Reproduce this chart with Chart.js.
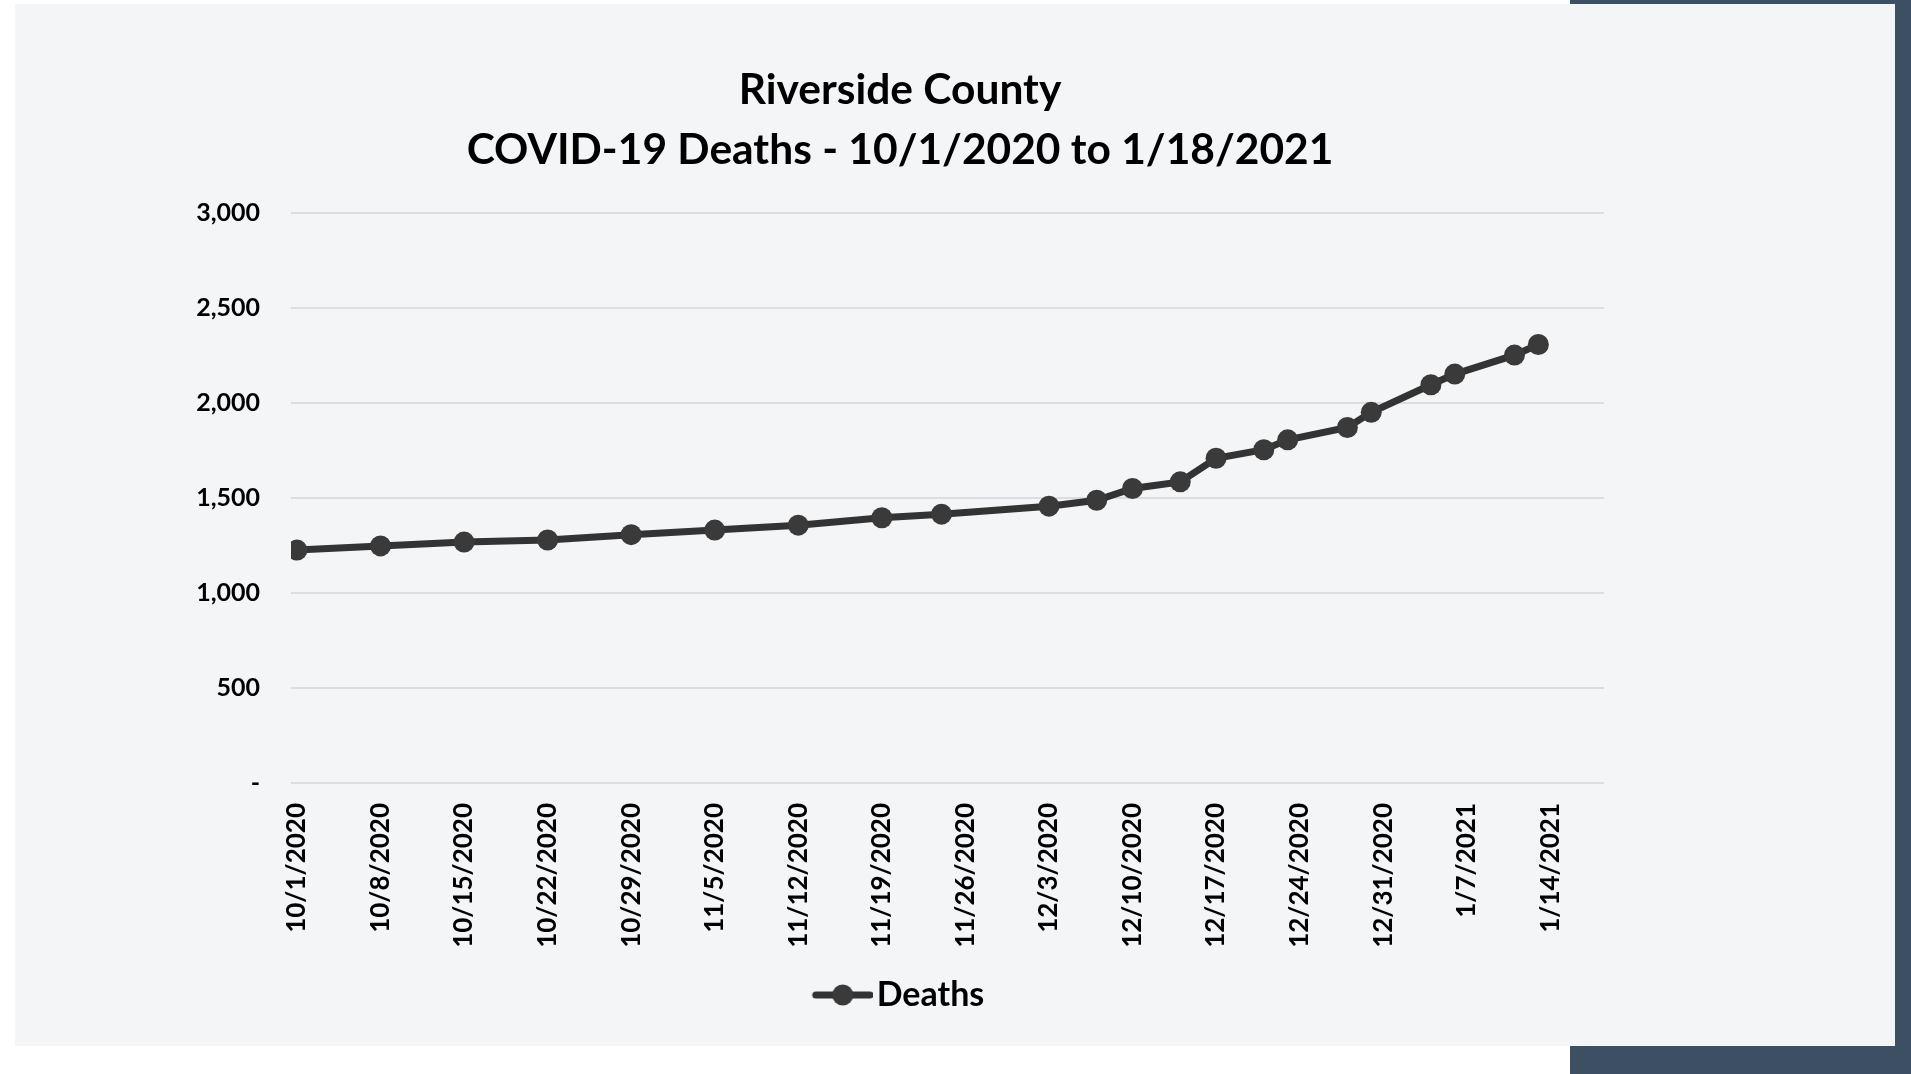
<!DOCTYPE html>
<html>
<head>
<meta charset="utf-8">
<script src="https://cdn.jsdelivr.net/npm/chart.js@4.4.1/dist/chart.umd.min.js"></script>
<style>
  body { margin: 0; background: #ffffff; width: 1911px; height: 1074px; overflow: hidden; position: relative; }
  #slate { position: absolute; left: 1570px; top: 0; width: 341px; height: 1074px; background: #3c4f63; }
  #panel { position: absolute; left: 15px; top: 4px; width: 1880px; height: 1042px; background: #f4f5f7; }
</style>
</head>
<body>
<div id="slate"></div>
<div id="panel"><canvas id="myChart" width="1880" height="1042"></canvas></div>
<script>
// report dates and cumulative deaths
var dates = ['10/1/2020', '10/8/2020', '10/15/2020', '10/22/2020', '10/29/2020', '11/5/2020',
             '11/12/2020', '11/19/2020', '11/24/2020', '12/3/2020', '12/7/2020', '12/10/2020',
             '12/14/2020', '12/17/2020', '12/21/2020', '12/23/2020', '12/28/2020', '12/30/2020',
             '1/4/2021', '1/6/2021', '1/11/2021', '1/13/2021'];
var deaths = [1226, 1248, 1268, 1279, 1307, 1331, 1357, 1396, 1415, 1457, 1488, 1550,
              1585, 1709, 1754, 1806, 1871, 1951, 2096, 2152, 2252, 2308];

var xTickLabels = ['10/1/2020', '10/8/2020', '10/15/2020', '10/22/2020', '10/29/2020', '11/5/2020',
                   '11/12/2020', '11/19/2020', '11/26/2020', '12/3/2020', '12/10/2020', '12/17/2020',
                   '12/24/2020', '12/31/2020', '1/7/2021', '1/14/2021'];
var yTickLabels = ['-', '500', '1,000', '1,500', '2,000', '2,500', '3,000'];

var firstDay = '10/1/2020';
var lastDay = '1/18/2021';

function dayNum(s) {
    var p = s.split('/');
    var d = Date.UTC(+p[2], +p[0] - 1, +p[1]);
    var p0 = firstDay.split('/');
    return Math.round((d - Date.UTC(+p0[2], +p0[0] - 1, +p0[1])) / 86400000);
}

var points = dates.map(function (d, i) { return { x: dayNum(d), y: deaths[i] }; });
var xTickDays = xTickLabels.map(dayNum);

// legend icon: line with a marker in the middle
var legendIcon = document.createElement('canvas');
legendIcon.width = 70;
legendIcon.height = 24;
var ic = legendIcon.getContext('2d');
ic.strokeStyle = '#333333';
ic.lineWidth = 7;
ic.lineCap = 'round';
ic.beginPath();
ic.moveTo(13, 12);
ic.lineTo(67, 12);
ic.stroke();
ic.fillStyle = '#3a3a3a';
ic.beginPath();
ic.arc(40, 12, 10.5, 0, Math.PI * 2);
ic.fill();

Chart.defaults.font.family = 'Lato';
Chart.defaults.color = '#000000';

var ctx = document.getElementById('myChart').getContext('2d');
var myChart = new Chart(ctx, {
    type: 'line',
    data: {
        datasets: [{
            label: 'Deaths',
            data: points,
            borderColor: '#333333',
            borderWidth: 7,
            pointRadius: 10.5,
            pointBackgroundColor: '#3a3a3a',
            pointBorderWidth: 0,
            pointHoverRadius: 10.5,
            tension: 0
        }]
    },
    options: {
        responsive: false,
        animation: false,
        layout: {
            padding: { left: 181, right: 291, top: 0, bottom: 24 }
        },
        plugins: {
            title: {
                display: true,
                text: ['Riverside County', 'COVID-19 Deaths - 10/1/2020 to 1/18/2021'],
                color: '#000000',
                font: { size: 42.5, weight: 'bold', lineHeight: 1.4 },
                padding: { top: 57, bottom: 33 }
            },
            legend: {
                position: 'bottom',
                labels: {
                    usePointStyle: true,
                    pointStyleWidth: 44,
                    padding: 10,
                    color: '#000000',
                    font: { size: 34, weight: 'bold' },
                    generateLabels: function (chart) {
                        var items = Chart.defaults.plugins.legend.labels.generateLabels(chart);
                        items.forEach(function (it) { it.pointStyle = legendIcon; });
                        return items;
                    }
                }
            },
            tooltip: { enabled: false }
        },
        scales: {
            x: {
                type: 'linear',
                min: dayNum(firstDay) - 0.5,
                max: dayNum(lastDay) + 0.5,
                grid: { display: false, drawTicks: false },
                border: { display: false },
                afterBuildTicks: function (scale) {
                    scale.ticks = xTickDays.map(function (v) { return { value: v }; });
                },
                afterFit: function (scale) { scale.height = 185; },
                ticks: {
                    autoSkip: false,
                    minRotation: 90,
                    maxRotation: 90,
                    padding: 20,
                    color: '#000000',
                    font: { size: 26, weight: 'bold' },
                    callback: function (value, index) { return xTickLabels[index]; }
                }
            },
            y: {
                min: 0,
                max: 3000,
                grid: { color: '#dcdde0', lineWidth: 2, drawTicks: false },
                border: { display: false },
                afterFit: function (scale) { scale.width = 95; },
                ticks: {
                    stepSize: 500,
                    padding: 31,
                    color: '#000000',
                    font: { size: 25, weight: 'bold' },
                    callback: function (value, index) { return yTickLabels[index]; }
                }
            }
        }
    }
});
</script>
</body>
</html>
